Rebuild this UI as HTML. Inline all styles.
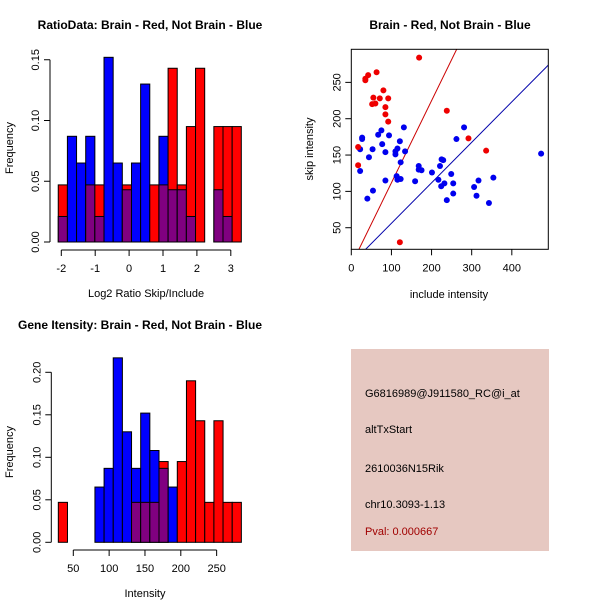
<!DOCTYPE html>
<html><head><meta charset="utf-8"><style>
html,body{margin:0;padding:0;background:#fff;}
svg{display:block;font-family:"Liberation Sans","DejaVu Sans",sans-serif;}
</style></head><body>
<svg id="c" width="600" height="600" viewBox="0 0 600 600">
<rect x="0" y="0" width="600" height="600" fill="#fff"/>
<g id="h1"></g>
<g id="sc"></g>
<g id="h2"></g>
<g>
<rect x="351" y="349" width="198" height="202" fill="#e6c8c1"/>
<text x="365" y="397" font-size="11">G6816989@J911580_RC@i_at</text>
<text x="365" y="433" font-size="11">altTxStart</text>
<text x="365" y="472" font-size="11">2610036N15Rik</text>
<text x="365" y="508" font-size="11">chr10.3093-1.13</text>
<text x="365" y="535" font-size="11" fill="#a00000">Pval: 0.000667</text>
</g>
</svg>
<script>
// Ratio histogram data
const h1Start = -2.09, h1Width = 0.27;
const h1Red  = [0.047,0,0,0.047,0.047,0,0,0.047,0,0,0.047,0.047,0.143,0.047,0.095,0.143,0,0.095,0.095,0.095];
const h1Blue = [0.021,0.087,0.065,0.087,0.021,0.152,0.065,0.043,0.065,0.130,0,0.087,0.043,0.043,0.021,0,0,0.043,0.021,0];
const h1XTicks = [-2,-1,0,1,2,3];
const h1YTicks = ["0.00","0.05","0.10","0.15"];
// Intensity histogram data
const h2Start = 29.1, h2Width = 12.77;
const h2Red  = [0.047,0,0,0,0,0,0,0,0.047,0.047,0.047,0.095,0,0.095,0.190,0.143,0.047,0.143,0.047,0.047];
const h2Blue = [0,0,0,0,0.065,0.087,0.217,0.130,0.087,0.152,0.108,0.087,0.065,0,0,0,0,0,0,0];
const h2XTicks = [50,100,150,200,250];
const h2YTicks = ["0.00","0.05","0.10","0.15","0.20"];
// Scatter data
const redX = [169,63,42,35,35,80,55,71,92,52,60,85,85,92,238,292,336,17,17,121];
const redY = [284,264,260,255,253,239,229,228,228,220,221,216,206,196,211,173,156,161,136,30];
const blueX = [22,27,27,22,44,53,40,54,67,75,94,77,85,85,110,110,115,121,131,134,123,113,115,123,159,168,168,175,201,217,221,225,229,224,232,249,254,254,238,262,281,306,312,317,343,354,473];
const blueY = [158,174,172,128,147,158,90,101,178,184,177,165,154,115,151,155,159,169,188,155,140,121,116,117,114,135,130,129,126,116,135,144,143,107,111,124,111,97,88,172,188,106,94,115,84,119,152];
const scXTicks = [0,100,200,300,400];
const scYTicks = [50,100,150,200,250];
const redSlope = 1.13, redIntercept = -1.2;
const blueSlope = 0.557, blueIntercept = 0.4;

const NS = "http://www.w3.org/2000/svg";
function mk(parent, tag, attrs, text){
  const e = document.createElementNS(NS, tag);
  for (const k in attrs) e.setAttribute(k, attrs[k]);
  if (text !== undefined) e.textContent = text;
  parent.appendChild(e);
  return e;
}

function hist(g, o){
  const X = v => o.x0px + (v - o.x0) * o.xs;
  const Y = v => o.y0px - v * o.ys;
  for (let i = 0; i < o.red.length; i++){
    const l = X(o.start + i*o.width), r = X(o.start + (i+1)*o.width);
    const rv = o.red[i], bv = o.blue[i];
    const mx = Math.max(rv, bv), mn = Math.min(rv, bv);
    if (mx > 0){
      const b = mk(g, "rect", {x:l, y:Y(mx), width:r-l, height:Y(0)-Y(mx), fill: rv>=bv ? "#ff0000" : "#0000ff", stroke:"#000", "stroke-width":1});
      
      
    }
    if (mn > 0){
      const p = mk(g, "rect", {x:l, y:Y(mn), width:r-l, height:Y(0)-Y(mn), fill:"#800080", stroke:"#000", "stroke-width":1});
      
      
    }
  }
  // y axis
  const yv = o.yticks.map(Number);
  mk(g, "line", {x1:o.yAxisX, x2:o.yAxisX, y1:Y(yv[0]), y2:Y(yv[yv.length-1]), stroke:"#000"});
  o.yticks.forEach(t => {
    const y = Y(Number(t));
    mk(g, "line", {x1:o.yAxisX-6, x2:o.yAxisX, y1:y, y2:y, stroke:"#000"});
    const tx = mk(g, "text", {x:0, y:0, "font-size":11, "text-anchor":"middle", transform:`translate(${o.yAxisX-11},${y}) rotate(-90)`}, t);
    
    
  });
  // x axis
  mk(g, "line", {x1:X(o.xticks[0]), x2:X(o.xticks[o.xticks.length-1]), y1:o.xAxisY, y2:o.xAxisY, stroke:"#000"});
  o.xticks.forEach(t => {
    const x = X(t);
    mk(g, "line", {x1:x, x2:x, y1:o.xAxisY, y2:o.xAxisY+6, stroke:"#000"});
    const tx = mk(g, "text", {x:x, y:o.xAxisY+22, "font-size":11, "text-anchor":"middle"}, String(t));
    
    
  });
  const ti = mk(g, "text", {x:o.cx, y:o.titleY, "font-size":12, "font-weight":"bold", "text-anchor":"middle"}, o.title);
  
  
  const xl = mk(g, "text", {x:X((o.xticks[0]+o.xticks[o.xticks.length-1])/2), y:o.xAxisY+47, "font-size":11, "text-anchor":"middle"}, o.xlab);
  
  
  const yl = mk(g, "text", {x:0, y:0, "font-size":11, "text-anchor":"middle", transform:`translate(${13},${o.yLabY}) rotate(-90)`}, "Frequency");
  
  
}

hist(document.getElementById("h1"), {
  red:h1Red, blue:h1Blue, start:h1Start, width:h1Width,
  x0:-2, x0px:61.3, xs:33.9, y0px:242, ys:1215,
  xticks:h1XTicks, yticks:h1YTicks, yAxisX:50, xAxisY:250,
  title:"RatioData: Brain - Red, Not Brain - Blue", titleY:29, cx:150,
  xlab:"Log2 Ratio Skip/Include", yLabY:148
});
hist(document.getElementById("h2"), {
  red:h2Red, blue:h2Blue, start:h2Start, width:h2Width,
  x0:50, x0px:73.3, xs:0.7167, y0px:542.3, ys:850,
  xticks:h2XTicks, yticks:h2YTicks, yAxisX:51.3, xAxisY:550,
  title:"Gene Itensity: Brain - Red, Not Brain - Blue", titleY:329, cx:140,
  xlab:"Intensity", yLabY:452
});

// scatter
(function(){
  const g = document.getElementById("sc");
  const L = 351.3, R = 548.3, T = 49.3, B = 249.3;
  const X = v => L + v * 0.4013;
  const Y = v => B - (v - 20.3) * 0.7267;
  const cp = mk(g, "clipPath", {id:"scclip"});
  mk(cp, "rect", {x:L, y:T, width:R-L, height:B-T});
  const xmin = 0, xmax = (R-L)/0.4013;
  const rl = mk(g, "line", {x1:X(xmin), y1:Y(redIntercept+redSlope*xmin), x2:X(xmax), y2:Y(redIntercept+redSlope*xmax), stroke:"#cc0000", "clip-path":"url(#scclip)"});
  
  
  const bl = mk(g, "line", {x1:X(xmin), y1:Y(blueIntercept+blueSlope*xmin), x2:X(xmax), y2:Y(blueIntercept+blueSlope*xmax), stroke:"#0000aa", "clip-path":"url(#scclip)"});
  
  
  blueX.forEach((x,i) => {
    const c = mk(g, "circle", {cx:X(x), cy:Y(blueY[i]), r:3, fill:"#0000ee"});
    
    
  });
  redX.forEach((x,i) => {
    const c = mk(g, "circle", {cx:X(x), cy:Y(redY[i]), r:3, fill:"#ee0000"});
    
    
  });
  mk(g, "rect", {x:L, y:T, width:R-L, height:B-T, fill:"none", stroke:"#000"});
  scXTicks.forEach(t => {
    const x = X(t);
    mk(g, "line", {x1:x, x2:x, y1:B, y2:B+6, stroke:"#000"});
    const tx = mk(g, "text", {x:x, y:B+22, "font-size":11, "text-anchor":"middle"}, String(t));
    
    
  });
  scYTicks.forEach(t => {
    const y = Y(t);
    mk(g, "line", {x1:L-6, x2:L, y1:y, y2:y, stroke:"#000"});
    const tx = mk(g, "text", {x:0, y:0, "font-size":11, "text-anchor":"middle", transform:`translate(${L-11},${y}) rotate(-90)`}, String(t));
    
    
  });
  const ti = mk(g, "text", {x:450, y:29, "font-size":12, "font-weight":"bold", "text-anchor":"middle"}, "Brain - Red, Not Brain - Blue");
  
  
  const xl = mk(g, "text", {x:449, y:298, "font-size":11, "text-anchor":"middle"}, "include intensity");
  
  
  const yl = mk(g, "text", {x:0, y:0, "font-size":11, "text-anchor":"middle", transform:"translate(313,149) rotate(-90)"}, "skip intensity");
  
  
})();
</script>
</body></html>
